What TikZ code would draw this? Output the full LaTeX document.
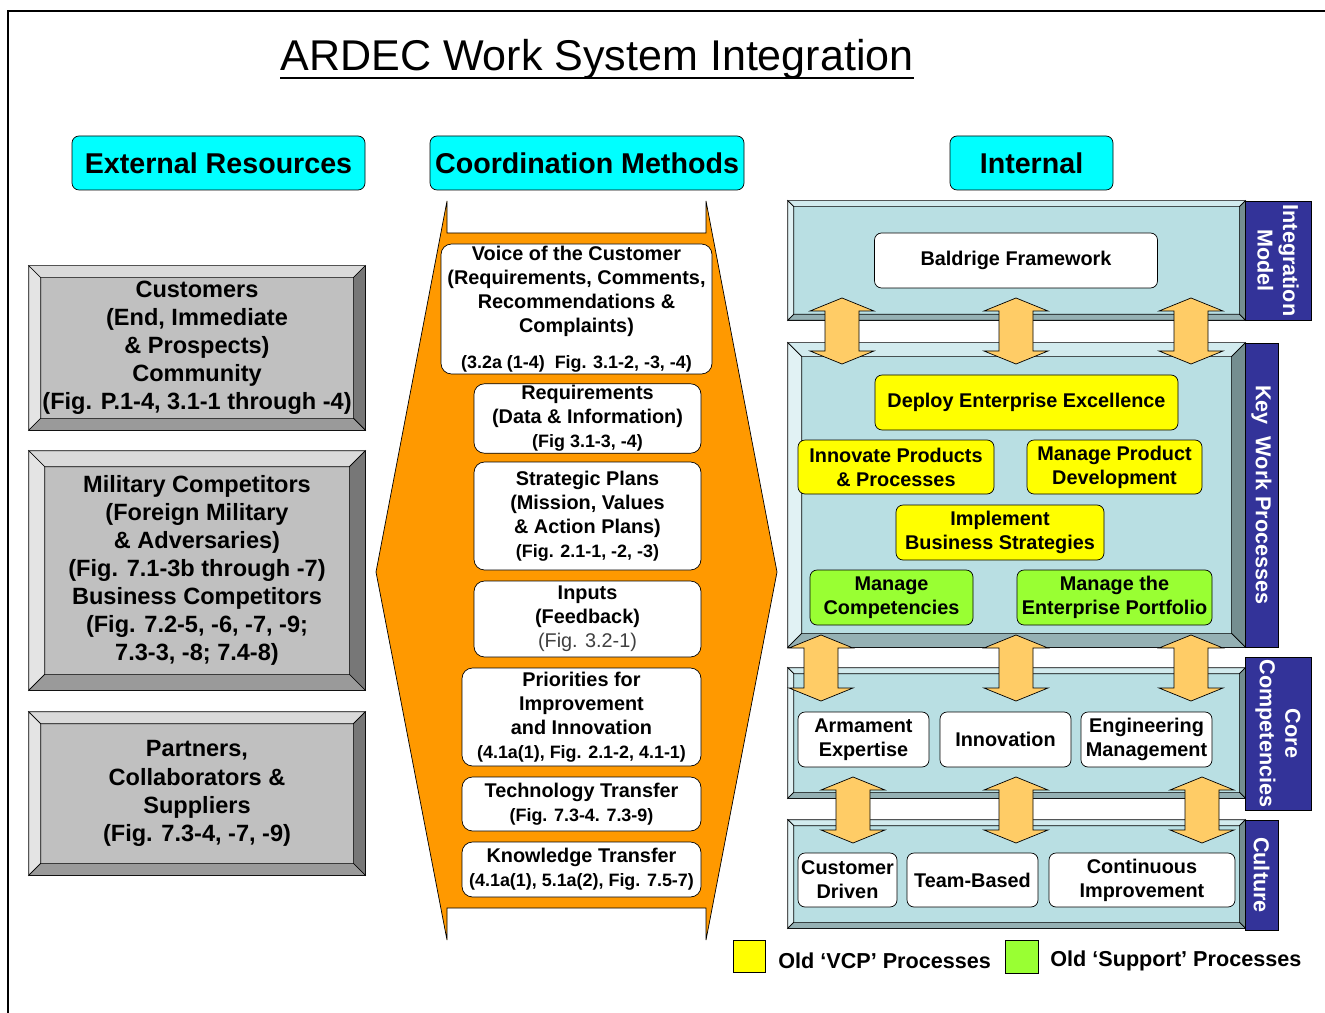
\documentclass[tikz,border=0pt]{standalone}
\usepackage{fontspec}
\setmainfont{Liberation Sans}
\usetikzlibrary{calc}

\newlength{\pix}
\setlength{\pix}{0.02cm}

\definecolor{hdrcyan}{HTML}{00FFFF}
\definecolor{funnel}{HTML}{FF9900}
\definecolor{vcpyellow}{HTML}{FFFF00}
\definecolor{supgreen}{HTML}{99FF33}
\definecolor{tabnavy}{HTML}{333399}
\definecolor{arrowfill}{HTML}{FFCC66}
\definecolor{greyface}{HTML}{C0C0C0}
\definecolor{greytop}{HTML}{DADADA}
\definecolor{greylft}{HTML}{E4E4E4}
\definecolor{greyrgt}{HTML}{777777}
\definecolor{greybot}{HTML}{9A9A9A}
\definecolor{blueface}{HTML}{B9DFE3}
\definecolor{bluetop}{HTML}{D2EBEE}
\definecolor{bluelft}{HTML}{E1F2F4}
\definecolor{bluergt}{HTML}{748E90}
\definecolor{bluebot}{HTML}{95B1B4}

\tikzset{
  dims/.style 2 args={minimum width=#1\pix, minimum height=#2\pix},
  hdr/.style={draw, fill=hdrcyan, rounded corners=4pt, inner sep=0pt,
    font=\fontsize{16.3}{19}\selectfont\bfseries},
  extbox/.style={draw, fill=greyface, inner sep=0pt, align=center,
    font=\fontsize{13.4}{16}\selectfont\bfseries},
  cmbox/.style={draw, fill=white, rounded corners=6pt, inner sep=1pt, align=center,
    font=\fontsize{11.3}{13.6}\selectfont\bfseries},
  panel/.style={draw, fill=blueface, inner sep=0pt},
  sidetab/.style={draw, fill=tabnavy, text=white, inner sep=0pt, align=center,
    font=\fontsize{12.3}{14.5}\selectfont\bfseries},
  wbox/.style={draw, fill=white, rounded corners=4pt, inner sep=1pt, align=center,
    font=\fontsize{11.3}{13.6}\selectfont\bfseries},
  vcp/.style={wbox, fill=vcpyellow},
  support/.style={wbox, fill=supgreen},
  keytext/.style={inner sep=0pt, font=\fontsize{12.3}{14}\selectfont\bfseries},
  twoway/.style={draw, fill=arrowfill}
}

\newcommand{\smallref}[1]{{\fontsize{10.2}{12}\selectfont #1}}

\newcommand{\bevelbox}[3]{%
  \draw[fill=#3top] (#1.north west) -- (#1.north east) -- ($(#1.north east)+(-#2,#2)$) -- ($(#1.north west)+(#2,#2)$) -- cycle;
  \draw[fill=#3lft] (#1.north west) -- (#1.south west) -- ($(#1.south west)+(#2,-#2)$) -- ($(#1.north west)+(#2,#2)$) -- cycle;
  \draw[fill=#3rgt] (#1.north east) -- (#1.south east) -- ($(#1.south east)+(-#2,-#2)$) -- ($(#1.north east)+(-#2,#2)$) -- cycle;
  \draw[fill=#3bot] (#1.south west) -- (#1.south east) -- ($(#1.south east)+(-#2,-#2)$) -- ($(#1.south west)+(#2,-#2)$) -- cycle;
}

\newcommand{\updown}[3]{%
  \draw[twoway] (#1,#2) -- (#1+32,#2+13) -- (#1+17,#2+13) -- (#1+17,#3-13) -- (#1+32,#3-13)
    -- (#1,#3) -- (#1-32,#3-13) -- (#1-17,#3-13) -- (#1-17,#2+13) -- (#1-32,#2+13) -- cycle;
}

\begin{document}
\begin{tikzpicture}[x=0.02cm, y=-0.02cm]
    \useasboundingbox (0,0) rectangle (1325,1013);
    \draw[line width=1pt] (8,1013) -- (8,11) -- (1325,11);

    \node[anchor=base, inner sep=0pt, font=\fontsize{24.5}{29}\selectfont](title) at (597,71) {ARDEC Work System Integration};
    \draw[line width=1.4pt] ($(title.base west)+(0,7)$) -- ($(title.base east)+(0,7)$);

    \node[hdr, dims={293}{54}](ext)    at (218.5,163)  {External Resources};
    \node[hdr, dims={314}{54}](coord)  at (587,163)    {Coordination Methods};
    \node[hdr, dims={163}{54}](intl)   at (1031.5,163) {Internal};

    \node[extbox, dims={336}{164}](cust) at (197,348) {Customers\\(End, Immediate\\\& Prospects)\\Community\\(Fig. P.1-4, 3.1-1 through -4)};
    \bevelbox{cust}{12}{grey}
    \node[extbox, dims={336}{239}](rival) at (197,570.5) {Military Competitors\\(Foreign Military\\\& Adversaries)\\(Fig. 7.1-3b through -7)\\Business Competitors\\(Fig. 7.2-5, -6, -7, -9;\\7.3-3, -8; 7.4-8)};
    \bevelbox{rival}{16}{grey}
    \node[extbox, dims={336}{163}](part) at (197,793.5) {Partners,\\Collaborators \&\\Suppliers\\(Fig. 7.3-4, -7, -9)};
    \bevelbox{part}{12}{grey}

    \draw[fill=funnel] (447,201) -- (447,233) -- (706,233) -- (706,201) -- (777,572) -- (706,940)
        -- (706,908) -- (447,908) -- (447,940) -- (376,572) -- cycle;

    \node[cmbox, dims={271}{130}](voc)   at (576.5,309)   {Voice of the Customer\\(Requirements, Comments,\\Recommendations \&\\Complaints)\\[7pt]\smallref{(3.2a (1-4)\ \ Fig. 3.1-2, -3, -4)}};
    \node[cmbox, dims={227}{65}](req)    at (587.5,418.5) {Requirements\\(Data \& Information)\\\smallref{(Fig 3.1-3, -4)}};
    \node[cmbox, dims={227}{108}](strat) at (587.5,516)   {Strategic Plans\\(Mission, Values\\\& Action Plans)\\\smallref{(Fig. 2.1-1, -2, -3)}};
    \node[cmbox, dims={227}{76}](inp)    at (587.5,619)   {Inputs\\(Feedback)\\{\mdseries\color{black!75}(Fig. 3.2-1)}};
    \node[cmbox, dims={239}{98}](prio)   at (581.5,717)   {Priorities for\\Improvement\\and Innovation\\\smallref{(4.1a(1), Fig. 2.1-2, 4.1-1)}};
    \node[cmbox, dims={239}{54}](tech)   at (581.5,804)   {Technology Transfer\\\smallref{(Fig. 7.3-4. 7.3-9)}};
    \node[cmbox, dims={239}{55}](know)   at (581.5,869.5) {Knowledge Transfer\\\smallref{(4.1a(1), 5.1a(2), Fig. 7.5-7)}};

    \node[panel, dims={457}{119}](intg) at (1016.5,260.5) {};
    \bevelbox{intg}{6}{blue}
    \node[panel, dims={457}{304}](kwp)  at (1016.5,495)   {};
    \bevelbox{kwp}{14}{blue}
    \node[panel, dims={457}{130}](core) at (1016.5,733)   {};
    \bevelbox{core}{6}{blue}
    \node[panel, dims={457}{108}](cult) at (1016.5,874)   {};
    \bevelbox{cult}{6}{blue}

    \node[sidetab, rotate=-90, dims={119}{66}](intgtab) at (1278,260.5)  {Integration\\Model};
    \node[sidetab, rotate=-90, dims={304}{33}](kwptab)  at (1261.5,495)  {Key\ \ Work Processes};
    \node[sidetab, rotate=-90, dims={153}{66}](coretab) at (1278,733.5)  {Core\\Competencies};
    \node[sidetab, rotate=-90, dims={110}{33}](culttab) at (1261.5,875)  {Culture};

    \node[wbox, dims={283}{55}](bald)      at (1016,260.5)   {Baldrige Framework};
    \node[vcp, dims={303}{55}](deploy)     at (1026.5,402.5) {Deploy Enterprise Excellence};
    \node[vcp, dims={196}{54}](innov)      at (896,467)      {Innovate Products\\\& Processes};
    \node[vcp, dims={175}{54}](mpd)        at (1114.5,467)   {Manage Product\\Development};
    \node[vcp, dims={208}{55}](impl)       at (1000,532.5)   {Implement\\Business Strategies};
    \node[support, dims={163}{55}](mcomp)  at (891.5,597.5)  {Manage\\Competencies};
    \node[support, dims={195}{55}](mport)  at (1114.5,597.5) {Manage the\\Enterprise Portfolio};
    \node[wbox, dims={131}{55}](arm)       at (863.5,739.5)  {Armament\\Expertise};
    \node[wbox, dims={131}{55}](innovn)    at (1005.5,739.5) {Innovation};
    \node[wbox, dims={131}{55}](eng)       at (1146.5,739.5) {Engineering\\Management};
    \node[wbox, dims={99}{54}](custdr)     at (847.5,880)    {Customer\\Driven};
    \node[wbox, dims={131}{54}](team)      at (972.5,880)    {Team-Based};
    \node[wbox, dims={186}{54}](cont)      at (1142,880)     {Continuous\\Improvement};

    \foreach \x in {842,1016,1191} {\updown{\x}{298}{364}}
    \foreach \x in {821,1016,1191} {\updown{\x}{635}{701}}
    \foreach \x in {853,1016,1202} {\updown{\x}{777}{843}}

    \node[draw, fill=vcpyellow, dims={32}{32}](keyvcp) at (749,956)    {};
    \node[keytext, anchor=west](keyvcptxt)             at (778,961)    {Old ‘VCP’ Processes};
    \node[draw, fill=supgreen, dims={33}{33}](keysup)  at (1021.5,956.5) {};
    \node[keytext, anchor=west](keysuptxt)             at (1050,961)   {Old ‘Support’ Processes};
\end{tikzpicture}
\end{document}
